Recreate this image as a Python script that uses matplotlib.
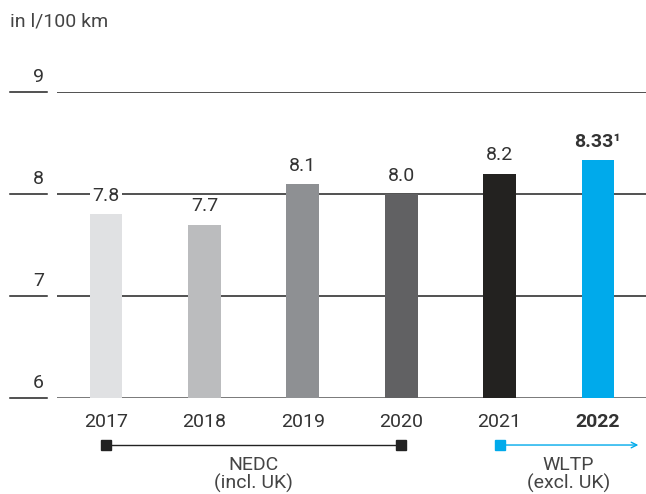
import matplotlib
matplotlib.use("Agg")
from matplotlib import pyplot as plt

plt.rcParams['font.family'] = ['Roboto', 'DejaVu Sans']

years = ['2017', '2018', '2019', '2020', '2021', '2022']
values = [7.8, 7.7, 8.1, 8.0, 8.2, 8.33]
labels = ['7.8', '7.7', '8.1', '8.0', '8.2', '8.33¹']
colors = ['#e0e1e3', '#bbbcbe', '#8e9093', '#616163', '#232220', '#00aaeb']
yticks = [6, 7, 8, 9]

fig = plt.figure(figsize=(6.46, 4.94), dpi=100)
ax = fig.add_axes([57 / 646, (494 - 398) / 494, 589 / 646, 306 / 494])
ax.set_xlim(-0.498, 5.488)
ax.set_ylim(6, 9)
ax.axis('off')

txt = '#333333'
fs = 14
x = list(range(len(years)))

# gridlines, with a short detached piece carrying the tick value
for t in yticks:
    ax.axhline(t, color='#555555' if t == 6 else '#222222', lw=1.1, zorder=1)
    ax.plot([-0.976, -0.6], [t, t], color='#222222', lw=1.1, clip_on=False)
    ax.text(-0.63, t + 0.06, str(t), ha='right', va='bottom', fontsize=fs, color=txt)

ax.bar(x, [v - 6 for v in values], bottom=6, width=0.335, color=colors, zorder=2)

for i, (v, lab) in enumerate(zip(values, labels)):
    bold = i == len(values) - 1
    ax.text(i, v + 0.09, lab, ha='center', va='bottom', fontsize=fs, color=txt,
            fontweight='bold' if bold else 'normal', zorder=3,
            bbox=dict(facecolor='white', edgecolor='none', pad=1.5))
    ax.text(i, 5.76, years[i], ha='center', va='center', fontsize=fs, color=txt,
            fontweight='bold' if bold else 'normal', clip_on=False)

# test cycle brackets
ax.plot([0, 3], [5.539, 5.539], color='#222222', lw=1, clip_on=False)
ax.plot([0, 3], [5.539, 5.539], 's', color='#222222', ms=6.5, clip_on=False)
ax.annotate('', xy=(5.41, 5.539), xytext=(4, 5.539), annotation_clip=False,
            arrowprops=dict(arrowstyle='->', color='#00aaeb', lw=1,
                            shrinkA=0, shrinkB=0))
ax.plot([4], [5.539], 's', color='#00aaeb', ms=6.5, clip_on=False)
ax.text(1.5, 5.43, 'NEDC\n(incl. UK)', ha='center', va='top', fontsize=fs,
        color='#444444', linespacing=1.0)
ax.text(4.7, 5.43, 'WLTP\n(excl. UK)', ha='center', va='top', fontsize=fs,
        color='#444444', linespacing=1.0)

fig.text(10 / 646, 1 - 22 / 494, 'in l/100 km', ha='left', va='center',
         fontsize=fs, color='#444444')

fig.savefig('out.png', dpi=100)
